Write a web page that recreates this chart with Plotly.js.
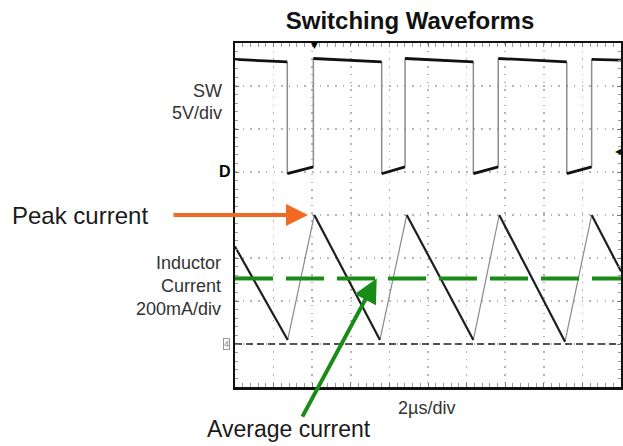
<!DOCTYPE html>
<html>
<head>
<meta charset="utf-8">
<script src="https://cdn.plot.ly/plotly-3.0.1.min.js"></script>
<style>html,body{margin:0;padding:0;background:#fff;}#chart{width:623px;height:446px;}</style>
</head>
<body>
<div id="chart"></div>
<script>
// ---------- data ----------
const chartTitle = "Switching Waveforms";
const swLabel = "SW";
const swScaleLabel = "5V/div";
const ilLabels = ["Inductor", "Current", "200mA/div"];
const timebaseLabel = "2µs/div";
const peakLabel = "Peak current";
const avgLabel = "Average current";

// time axis: 10 divisions x 2 µs
const timeRange = [0, 20];
// SW node voltage (V), corner points of the waveform
const swTime = [0, 2.71, 2.71, 4.06, 4.06, 7.60, 7.60, 8.81, 8.81, 12.35, 12.35, 13.64, 13.64, 17.19, 17.19, 18.48, 18.48, 20];
const swVolt = [13.1, 12.8, -0.2, 0.6, 13.2, 12.8, -0.2, 0.6, 13.2, 12.8, -0.2, 0.6, 13.2, 12.8, -0.2, 0.6, 13.1, 13.0];
// inductor current (mA), corner points
const ilTime = [0, 2.73, 4.11, 7.51, 8.90, 12.35, 13.69, 17.10, 18.48, 20];
const ilCurrent = [453, 19, 600, 19, 600, 19, 600, 11, 600, 338];
const peakCurrent = 600;
const avgCurrent = 305;
const zeroCurrent = 0;

// ---------- helpers ----------
function split(xs, ys, pred) {
  const a = {x: [], y: []}, b = {x: [], y: []};
  for (let i = 0; i < xs.length - 1; i++) {
    const t = pred(xs[i], ys[i], xs[i + 1], ys[i + 1]) ? a : b;
    t.x.push(xs[i], xs[i + 1], null);
    t.y.push(ys[i], ys[i + 1], null);
  }
  return [a, b];
}
const [ilRise, ilFall] = split(ilTime, ilCurrent, (x0, y0, x1, y1) => y1 > y0);
const [swEdge, swLevel] = split(swTime, swVolt, (x0, y0, x1, y1) => x1 === x0);

const W = 623, H = 446, L = 235, R = 621, T = 43, B = 387;
const px = v => (v - L) / (R - L);
const py = v => (B - v) / (B - T);

const traces = [
  {x: timeRange, y: [zeroCurrent, zeroCurrent], yaxis: 'y2', mode: 'lines',
   line: {color: '#222', width: 1.5, dash: '7px,4px'}, hoverinfo: 'skip'},
  {x: ilRise.x, y: ilRise.y, yaxis: 'y2', mode: 'lines', line: {color: '#8a8a8a', width: 1.2}, hoverinfo: 'skip'},
  {x: ilFall.x, y: ilFall.y, yaxis: 'y2', mode: 'lines', line: {color: '#1e1e1e', width: 2.2}, hoverinfo: 'skip'},
  {x: timeRange, y: [avgCurrent, avgCurrent], yaxis: 'y2', mode: 'lines',
   line: {color: '#178c17', width: 4, dash: '38px,13px'}, hoverinfo: 'skip'},
  {x: swEdge.x, y: swEdge.y, mode: 'lines', line: {color: '#8c8c8c', width: 1.5}, hoverinfo: 'skip'},
  {x: swLevel.x, y: swLevel.y, mode: 'lines', line: {color: '#111', width: 2.8}, hoverinfo: 'skip'}
];

const gridCommon = {
  showticklabels: false, zeroline: false, fixedrange: true,
  showline: true, mirror: 'allticks', linecolor: '#111', linewidth: 2.5,
  ticks: 'inside', ticklen: 4, tickcolor: '#777', tickwidth: 1,
  showgrid: true, gridcolor: '#b5b5b5', gridwidth: 1.5, griddash: '1.5px,6.2px'
};
const centerCommon = {
  showticklabels: false, zeroline: false, fixedrange: true, showline: false,
  showgrid: false, ticklen: 3, tickcolor: '#888', tickwidth: 1, anchor: 'free', position: 0.5
};

const lab = (text, x, y, opts) => Object.assign({
  text: text, xref: 'paper', yref: 'paper', x: px(x), y: py(y), showarrow: false,
  xanchor: 'right', yanchor: 'middle',
  font: {family: 'Liberation Sans, Arial, sans-serif', size: 18, color: '#333'}
}, opts || {});

const layout = {
  width: W, height: H,
  margin: {l: L, r: W - R, t: T, b: H - B, pad: 0},
  paper_bgcolor: '#fff', plot_bgcolor: '#fff',
  showlegend: false,
  title: {text: '<b>' + chartTitle + '</b>', xref: 'container', yref: 'container',
          x: 410 / W, xanchor: 'center', y: 1 - 20.6 / H, yanchor: 'middle',
          font: {family: 'Liberation Sans, Arial, sans-serif', size: 24, color: '#111'}},
  xaxis: Object.assign({}, gridCommon, {range: timeRange, dtick: 2, tick0: 0,
          minor: {dtick: 0.4, tick0: 0, ticks: 'inside', ticklen: 3, tickcolor: '#999', showgrid: false}}),
  yaxis: Object.assign({}, gridCommon, {range: [-25, 15], dtick: 5, tick0: 0,
          minor: {dtick: 1, tick0: 0, ticks: 'inside', ticklen: 3, tickcolor: '#999', showgrid: false}}),
  yaxis2: {overlaying: 'y', range: [-200, 1400], visible: false, fixedrange: true},
  xaxis3: Object.assign({}, centerCommon, {overlaying: 'x', range: timeRange, dtick: 0.4, tick0: 0, ticks: 'inside'}),
  xaxis4: Object.assign({}, centerCommon, {overlaying: 'x', range: timeRange, dtick: 0.4, tick0: 0, ticks: 'outside'}),
  yaxis3: Object.assign({}, centerCommon, {overlaying: 'y', range: [-25, 15], dtick: 1, tick0: 0, ticks: 'inside'}),
  yaxis4: Object.assign({}, centerCommon, {overlaying: 'y', range: [-25, 15], dtick: 1, tick0: 0, ticks: 'outside'}),
  annotations: [
    lab(swLabel, 224, 91.4),
    lab(swScaleLabel, 224, 113),
    lab(ilLabels[0], 223, 263),
    lab(ilLabels[1], 223, 286.4),
    lab(ilLabels[2], 223, 308.7),
    lab(timebaseLabel, 426, 408, {xanchor: 'center'}),
    lab(peakLabel, 10, 215.6, {xanchor: 'left', font: {family: 'Liberation Sans, Arial, sans-serif', size: 24, color: '#1a1a1a'}}),
    lab(avgLabel, 289, 429, {xanchor: 'center', font: {family: 'Liberation Sans, Arial, sans-serif', size: 23, color: '#1a1a1a'}}),
    lab('<b>D</b>', 233, 171.5, {font: {family: 'Liberation Sans, Arial, sans-serif', size: 16, color: '#000'}}),
    lab('4', 230, 343.5, {font: {family: 'Liberation Sans, Arial, sans-serif', size: 9, color: '#888'},
        bordercolor: '#999', borderwidth: 1, borderpad: 0}),
    lab('▼', 314, 45, {xanchor: 'center', font: {family: 'DejaVu Sans, sans-serif', size: 9, color: '#000'}}),
    lab('◀', 618, 151, {xanchor: 'center', font: {family: 'DejaVu Sans, sans-serif', size: 8, color: '#111'}}),
    // arrows
    {xref: 'x', yref: 'y2', x: (308 - L) / (R - L) * 20, y: peakCurrent, ax: 172 - 308, ay: 0,
     axref: 'pixel', ayref: 'pixel', text: '', showarrow: true, arrowhead: 2, arrowsize: 1.1,
     arrowwidth: 4, arrowcolor: '#F26A21', standoff: 0},
    {xref: 'x', yref: 'y2', x: (376.7 - L) / (R - L) * 20, y: avgCurrent, ax: 301.6 - 376.7, ay: 418 - 278.3,
     axref: 'pixel', ayref: 'pixel', text: '', showarrow: true, arrowhead: 2, arrowsize: 1.2,
     arrowwidth: 4, arrowcolor: '#178c17', standoff: 0}
  ]
};

Plotly.newPlot('chart', traces, layout, {staticPlot: true, displayModeBar: false});
</script>
</body>
</html>
